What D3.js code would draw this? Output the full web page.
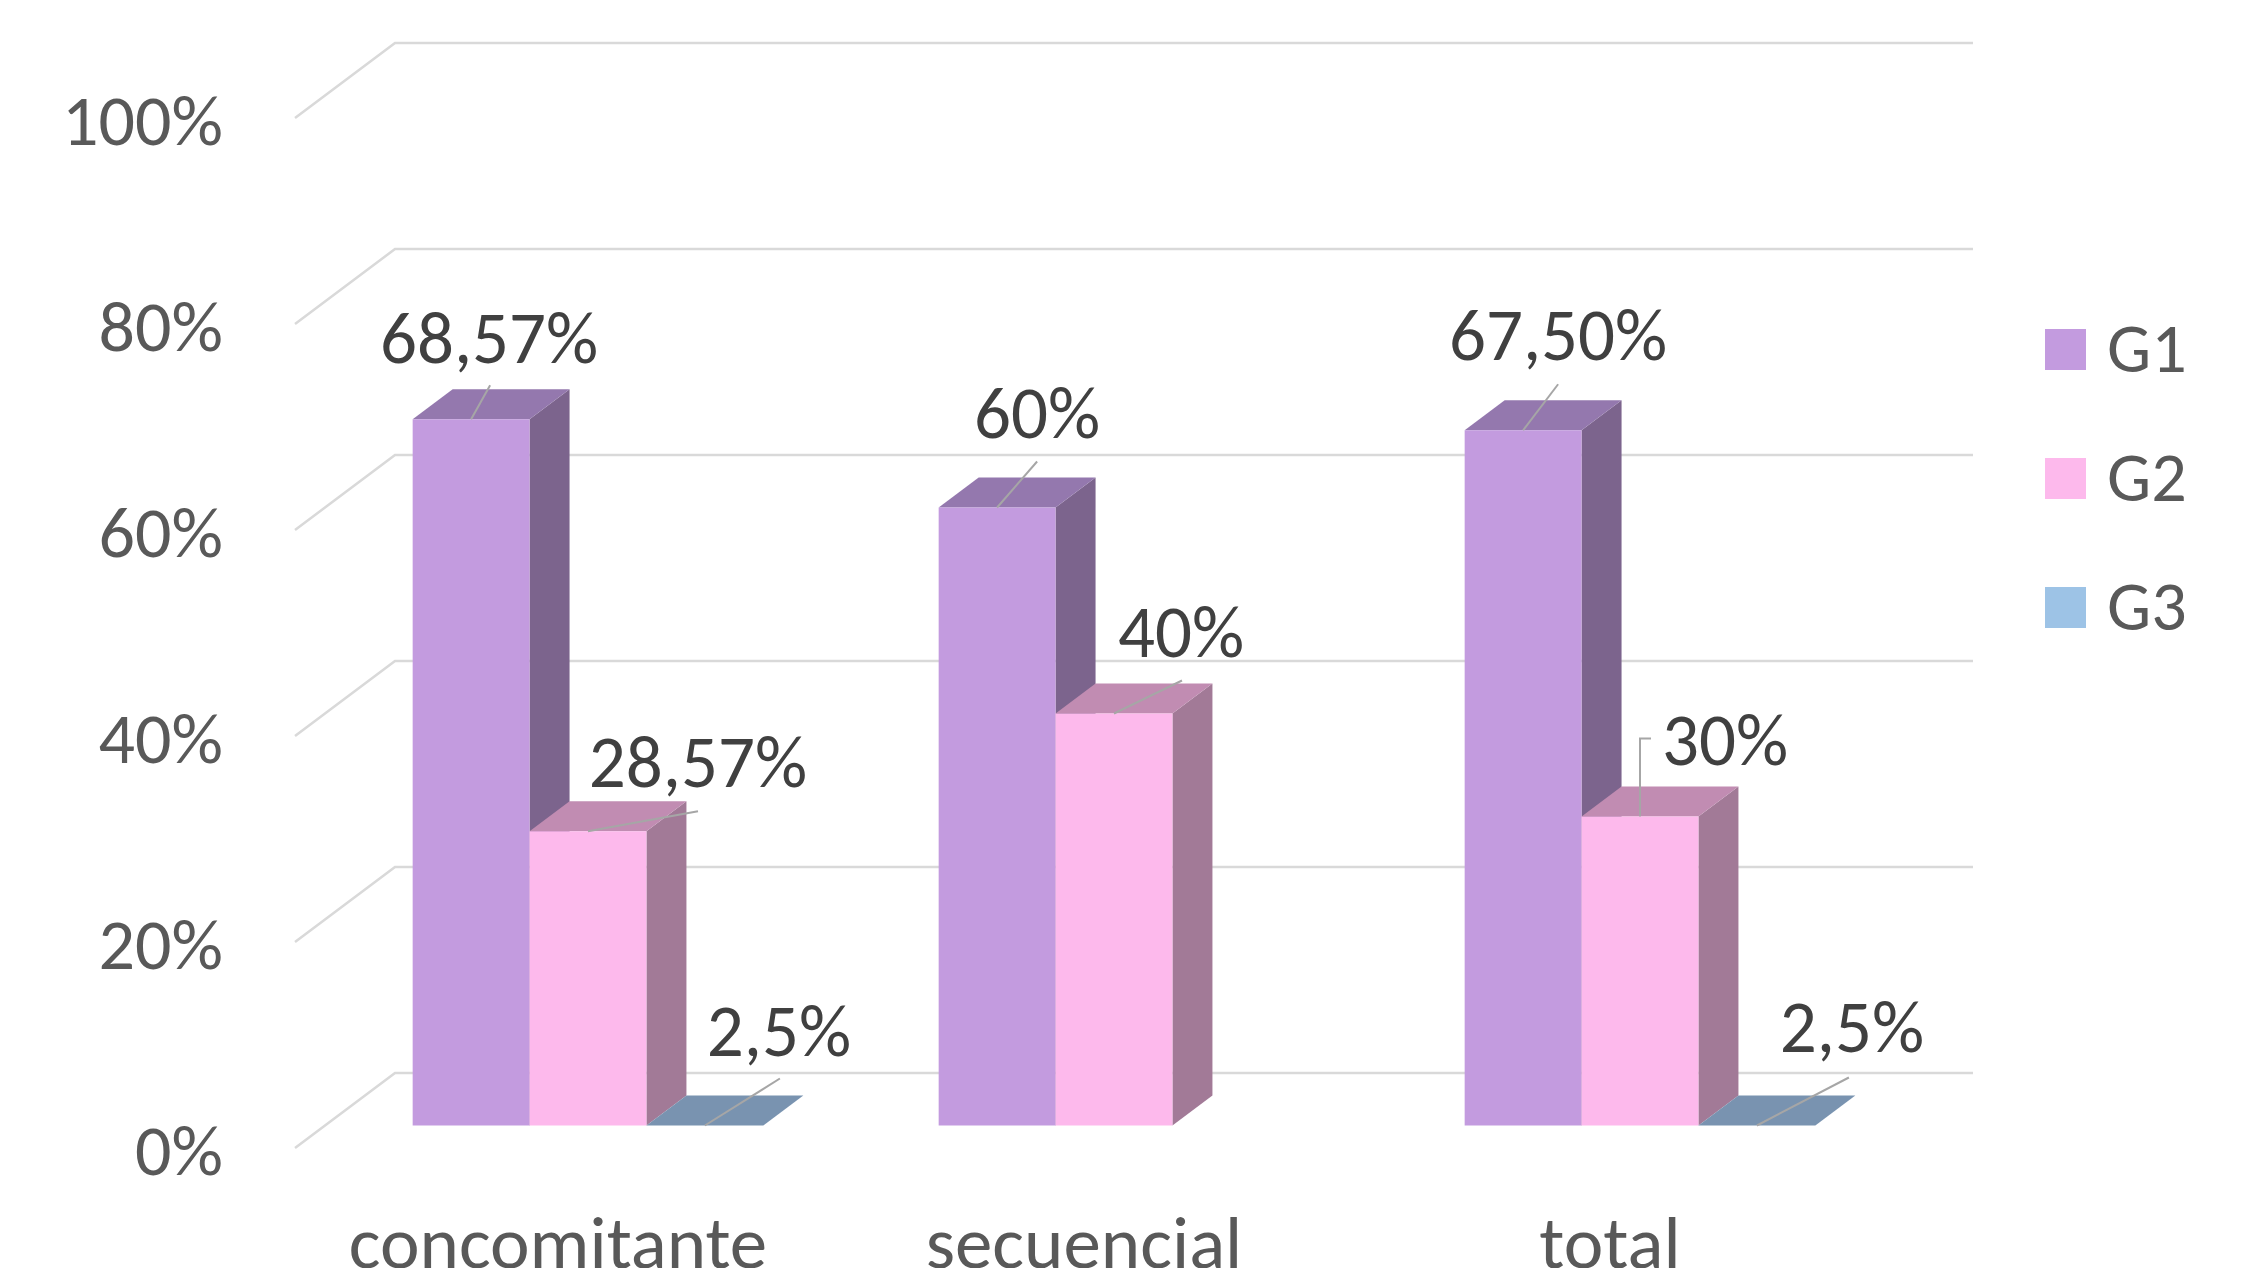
<!DOCTYPE html>
<meta charset="utf-8">
<style>
body { margin: 0; background: #fff; }
text { font-family: Calibri, Carlito, Lato, sans-serif; }
.grid { stroke: #d9d9d9; stroke-width: 2.5; fill: none; }
.tick-label, .cat-label, .legend-label { fill: #595959; }
.data-label { fill: #404040; }
.leader { stroke: #a6a6a6; stroke-width: 2; fill: none; }
</style>
<script src="https://d3js.org/d3.v7.min.js"></script>
<svg id="chart" width="2255" height="1268"></svg>
<script>

// data
var categories = ["concomitante", "secuencial", "total"];
var seriesNames = ["G1", "G2", "G3"];
var g1 = [68.57, 60, 67.5];
var g2 = [28.57, 40, 30];
var g3 = [0, null, 0];            // G3 bars are drawn flat, only labelled 2,5%
var g1Labels = ["68,57%", "60%", "67,50%"];
var g2Labels = ["28,57%", "40%", "30%"];
var g3Labels = ["2,5%", null, "2,5%"];
var yTicks = [0, 20, 40, 60, 80, 100];
var yTickLabels = ["0%", "20%", "40%", "60%", "80%", "100%"];

// label placement (moved labels in the original), offsets from bar top
var labelOffsets = [
  [[18, -56], [40, -70], [35, -70]],
  [[110, -44], [67, -57], [85, -52]],
  [[74, -70], null, [95, -74]]
];
var leaderOffsets = [
  [[[19, -34]], [[40, -46]], [[35, -46]]],
  [[[110, -20]], [[68, -33]], [[0, -78], [11, -78]]],
  [[[75, -47]], null, [[92, -48]]]
];

var colors = [
  { front: "#c39bdf", top: "#9478ae", side: "#7c648d" },
  { front: "#fdb9ec", top: "#c18cb2", side: "#a27a97" },
  { front: "#9dc3e6", top: "#7993b0", side: "#6a84a0" }
];

var svg = d3.select("svg#chart");

var FLOOR = 1148,   // 0% on the front plane
    DX = 100, DY = 75,  // depth vector of the floor
    Z0 = 0.3, Z1 = 0.7; // depth span of the bars

var x = d3.scaleBand().domain(categories).range([295, 1873]);
var xs = d3.scaleBand().domain(seriesNames).range([0, x.bandwidth()]).paddingOuter(0.75);
var h = d3.scaleLinear().domain([0, 100]).range([0, 1030]);

function P(xx, v, z) { return [xx + z * DX, FLOOR - h(v) - z * DY]; }

// gridlines on back wall + left floor diagonal
var grid = svg.append("g");
yTicks.forEach(function(t) {
  var a = P(x.range()[0], t, 0), b = P(x.range()[0], t, 1), c = P(x.range()[1], t, 1);
  grid.append("path").attr("class", "grid")
    .attr("d", d3.line()([a, b, c]));
});

svg.append("g").selectAll("text")
  .data(yTicks)
  .enter().append("text")
    .attr("class", "tick-label")
    .attr("x", 223)
    .attr("y", function(d) { return P(x.range()[0], d, 0)[1] + 27; })
    .attr("text-anchor", "end")
    .attr("font-size", 72)
    .text(function(d, i) { return yTickLabels[i]; });

// bars
var values = [g1, g2, g3];
var labels = [g1Labels, g2Labels, g3Labels];
var bars = [];
categories.forEach(function(c, ci) {
  seriesNames.forEach(function(s, si) {
    if (values[si][ci] == null) return;
    bars.push({ cat: c, ci: ci, si: si, v: values[si][ci], label: labels[si][ci] });
  });
});

var barG = svg.append("g");
bars.forEach(function(d) {
  var xl = x(d.cat) + xs(seriesNames[d.si]), w = xs.bandwidth(), v = d.v;
  var col = colors[d.si];
  var g = barG.append("g");
  if (v > 0) {
    g.append("path").attr("fill", col.side)
      .attr("d", d3.line()([P(xl + w, 0, Z0), P(xl + w, 0, Z1), P(xl + w, v, Z1), P(xl + w, v, Z0)]) + "Z");
  }
  g.append("path").attr("fill", col.top)
    .attr("d", d3.line()([P(xl, v, Z0), P(xl + w, v, Z0), P(xl + w, v, Z1), P(xl, v, Z1)]) + "Z");
  if (v > 0) {
    g.append("path").attr("fill", col.front)
      .attr("d", d3.line()([P(xl, 0, Z0), P(xl + w, 0, Z0), P(xl + w, v, Z0), P(xl, v, Z0)]) + "Z");
  }
  d.anchor = P(xl + w / 2, v, Z0);
});

// data labels with leader lines
var lab = svg.append("g");
bars.forEach(function(d) {
  if (!d.label) return;
  var off = labelOffsets[d.si][d.ci];
  var pts = [[0, 0]].concat(leaderOffsets[d.si][d.ci]).map(function(p) {
    return [d.anchor[0] + p[0], d.anchor[1] + p[1]];
  });
  lab.append("path").attr("class", "leader").attr("d", d3.line()(pts));
  lab.append("text")
    .attr("class", "data-label")
    .attr("x", d.anchor[0] + off[0])
    .attr("y", d.anchor[1] + off[1])
    .attr("text-anchor", "middle")
    .attr("font-size", 73)
    .text(d.label);
});

// category labels
svg.append("g").selectAll("text")
  .data(categories)
  .enter().append("text")
    .attr("class", "cat-label")
    .attr("x", function(d) { return x(d) + x.bandwidth() / 2; })
    .attr("y", 1268)
    .attr("text-anchor", "middle")
    .attr("font-size", 75)
    .text(function(d) { return d; });

// legend
var legend = svg.append("g").attr("transform", "translate(2045,329)");
var item = legend.selectAll("g")
  .data(seriesNames)
  .enter().append("g")
    .attr("transform", function(d, i) { return "translate(0," + i * 129 + ")"; });
item.append("rect")
  .attr("width", 41).attr("height", 41)
  .attr("fill", function(d, i) { return colors[i].front; });
item.append("text")
  .attr("class", "legend-label")
  .attr("x", 62).attr("y", 43)
  .attr("font-size", 70)
  .text(function(d) { return d; });

</script>
